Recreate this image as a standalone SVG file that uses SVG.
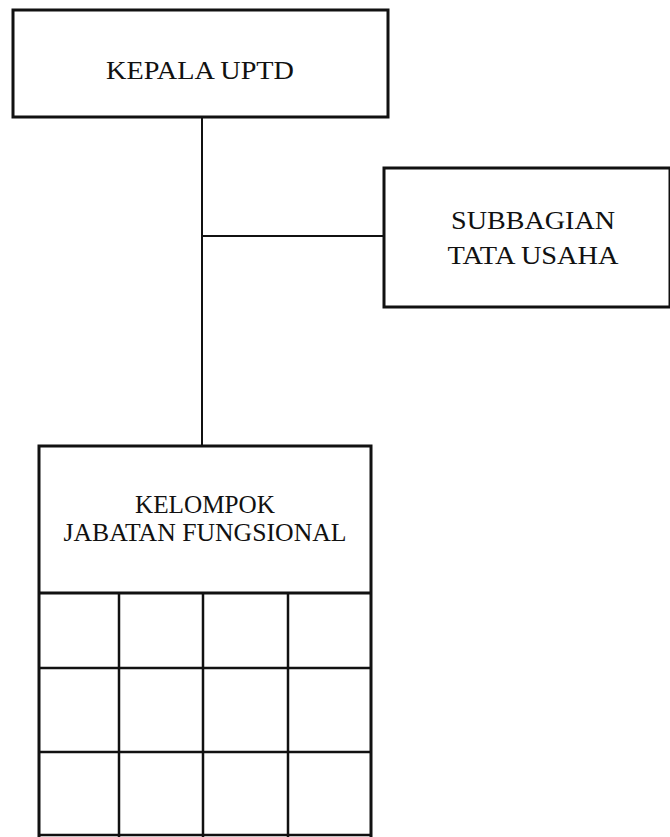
<svg xmlns="http://www.w3.org/2000/svg" width="670" height="837" viewBox="0 0 670 837">
<style>
.box{fill:#fff;stroke:#111;stroke-width:3}
.conn{stroke:#111;stroke-width:2;fill:none}
.grid{stroke:#111;stroke-width:2.5;fill:none}
text{font-family:"Liberation Serif","Times New Roman",serif;font-size:25px;fill:#111;text-anchor:middle}
</style>
<rect width="670" height="837" fill="#fff"/>
<g id="connectors">
<line class="conn" x1="202" y1="117" x2="202" y2="446"/>
<line class="conn" x1="202" y1="236" x2="384" y2="236"/>
</g>
<g id="kepala">
<rect class="box" x="13" y="10" width="375" height="107"/>
<text x="200" y="79" textLength="188" lengthAdjust="spacingAndGlyphs">KEPALA UPTD</text>
</g>
<g id="subbagian">
<rect class="box" x="384" y="168" width="286" height="139"/>
<text x="533" y="229" textLength="164" lengthAdjust="spacingAndGlyphs">SUBBAGIAN</text>
<text x="533" y="264" textLength="171" lengthAdjust="spacingAndGlyphs">TATA USAHA</text>
</g>
<g id="kelompok">
<rect class="box" x="39" y="446" width="332" height="395"/>
<line class="box" x1="39" y1="593" x2="371" y2="593"/>
<text x="205" y="513" textLength="140" lengthAdjust="spacingAndGlyphs">KELOMPOK</text>
<text x="205" y="541" textLength="283" lengthAdjust="spacingAndGlyphs">JABATAN FUNGSIONAL</text>
<line class="grid" x1="119" y1="593" x2="119" y2="837"/>
<line class="grid" x1="203" y1="593" x2="203" y2="837"/>
<line class="grid" x1="288" y1="593" x2="288" y2="837"/>
<line class="grid" x1="39" y1="668" x2="371" y2="668"/>
<line class="grid" x1="39" y1="752" x2="371" y2="752"/>
<line class="grid" x1="39" y1="835" x2="371" y2="835"/>
</g>
</svg>
